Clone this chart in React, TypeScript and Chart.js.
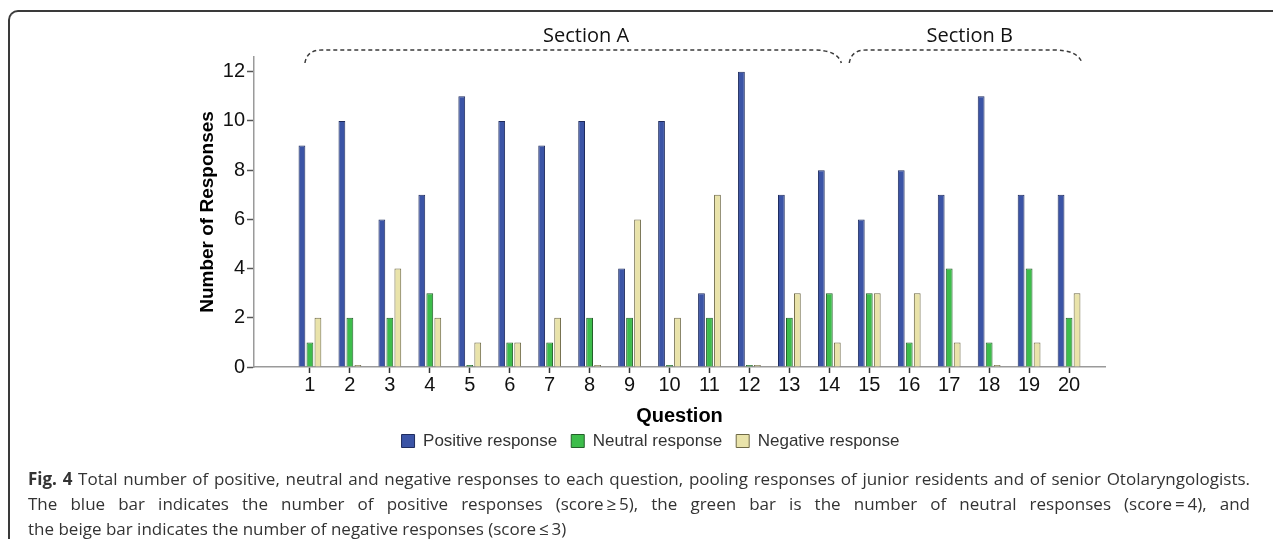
import React, { useEffect, useRef } from "react";
import { Chart, registerables } from "chart.js";

Chart.register(...registerables);

// ---- data ----
const questions = [1, 2, 3, 4, 5, 6, 7, 8, 9, 10, 11, 12, 13, 14, 15, 16, 17, 18, 19, 20];
const positive = [9, 10, 6, 7, 11, 10, 9, 10, 4, 10, 3, 12, 7, 8, 6, 8, 7, 11, 7, 7];
const neutral = [1, 2, 2, 3, 0, 1, 1, 2, 2, 0, 2, 0, 2, 3, 3, 1, 4, 1, 4, 2];
const negative = [2, 0, 4, 2, 1, 1, 2, 0, 6, 2, 7, 0, 3, 1, 3, 3, 1, 0, 1, 3];
const yTicks = [0, 2, 4, 6, 8, 10, 12];
const seriesNames = ["Positive response", "Neutral response", "Negative response"];
const sectionLabels = ["Section A", "Section B"];
const sectionFirst = [1, 15];
const sectionLast = [14, 20];

// ---- style (not data) ----
const seriesColors = ["#3b54a6", "#3dbd4b", "#e9e3aa"];
const seriesBorders = ["#1f2c5e", "#245f2a", "#6e6946"];
const braceStyle = [
  { startOffset: -5, endOffset: 12, labelShift: 13 },
  { startOffset: -20, endOffset: 13, labelShift: 4 },
];

const bracePlugin = {
  id: "sectionBraces",
  afterDraw(chart: any) {
    const { ctx, chartArea, scales } = chart;
    const x = scales.x;
    const yb = chartArea.top + 6;
    const yt = chartArea.top - 7;
    ctx.save();
    sectionLabels.forEach((label, i) => {
      const st = braceStyle[i];
      const x0 = x.getPixelForValue(sectionFirst[i]) + st.startOffset;
      const x1 = x.getPixelForValue(sectionLast[i]) + st.endOffset;
      ctx.strokeStyle = "#3a3a3a";
      ctx.lineWidth = 1.5;
      ctx.setLineDash([4, 3]);
      ctx.beginPath();
      ctx.moveTo(x0, yb);
      ctx.quadraticCurveTo(x0 + 2, yt, x0 + 17, yt);
      ctx.lineTo(x1 - 28, yt);
      ctx.quadraticCurveTo(x1 - 4, yt, x1, yb);
      ctx.stroke();
      ctx.setLineDash([]);
      ctx.fillStyle = "#111";
      ctx.font = "20px 'Open Sans', sans-serif";
      ctx.textAlign = "center";
      ctx.textBaseline = "middle";
      ctx.fillText(label, (x0 + x1) / 2 + st.labelShift, chartArea.top - 21);
    });
    ctx.restore();
  },
};

export default function App() {
  const ref = useRef<HTMLCanvasElement>(null);

  useEffect(() => {
    if (!ref.current) return;
    Chart.defaults.font.family = "'Liberation Sans', Arial, sans-serif";
    const values = [positive, neutral, negative];
    const chart = new Chart(ref.current, {
      type: "bar",
      data: {
        datasets: values.map((arr, i) => ({
          label: seriesNames[i],
          data: questions.map((q, j) => ({ x: q, y: arr[j] })),
          backgroundColor: seriesColors[i],
          borderColor: seriesBorders[i],
          borderWidth: 1,
          minBarLength: 2,
          barPercentage: 0.85,
          categoryPercentage: 0.6,
        })),
      },
      options: {
        animation: false,
        responsive: false,
        layout: { padding: { left: 196, right: 176, top: 57, bottom: 10.5 } },
        plugins: {
          tooltip: { enabled: false },
          legend: {
            display: true,
            position: "bottom",
            labels: {
              boxWidth: 13,
              boxHeight: 13,
              padding: 14,
              color: "#333",
              font: { size: 17 },
            },
          },
        },
        scales: {
          x: {
            type: "linear",
            min: -0.4,
            max: 20.9,
            offset: false,
            afterBuildTicks: (s: any) => {
              s.ticks = questions.map((v) => ({ value: v }));
            },
            afterFit: (s: any) => {
              s.height = 51.5;
            },
            ticks: {
              autoSkip: false,
              maxRotation: 0,
              padding: 0,
              color: "#111",
              font: { size: 20 },
              callback: (v: any) => String(v),
            },
            grid: {
              offset: false,
              drawOnChartArea: false,
              drawTicks: true,
              tickLength: 6,
              tickColor: "#333",
              tickWidth: 1.5,
            },
            border: { color: "#9a9a9a", width: 1.5 },
            title: {
              display: true,
              text: "Question",
              color: "#000",
              font: { size: 20, weight: "bold" },
              padding: { top: 0, bottom: -9.5 },
            },
          },
          y: {
            min: 0,
            max: 12.6,
            afterBuildTicks: (s: any) => {
              s.ticks = yTicks.map((v) => ({ value: v }));
            },
            afterFit: (s: any) => {
              s.width = 58;
            },
            ticks: {
              padding: 2,
              color: "#111",
              font: { size: 20 },
            },
            grid: {
              drawOnChartArea: false,
              drawTicks: true,
              tickLength: 7,
              tickColor: "#555",
              tickWidth: 1.5,
            },
            border: { color: "#9a9a9a", width: 1.5 },
            title: {
              display: true,
              text: "Number of Responses",
              color: "#000",
              font: { size: 19, weight: "bold" },
              padding: { top: 0, bottom: 0 },
            },
          },
        },
      },
      plugins: [bracePlugin],
    } as any);
    return () => chart.destroy();
  }, []);

  const lineStyle: React.CSSProperties = {
    whiteSpace: "nowrap",
    textAlign: "justify",
    textAlignLast: "justify",
    height: 25,
  };

  return (
    <div style={{ position: "relative", width: 1265, height: 531 }}>
      <div
        style={{
          position: "absolute",
          left: 0,
          top: 2,
          right: -8,
          bottom: -8,
          borderLeft: "2px solid #3a3a3a",
          borderTop: "2px solid #3a3a3a",
          borderTopLeftRadius: 10,
        }}
      />
      <div style={{ position: "absolute", left: -8, top: -8, width: 1281, height: 470 }}>
        <canvas ref={ref} width={1281} height={470} style={{ display: "block" }} />
      </div>
      <div
        style={{
          position: "absolute",
          left: 20,
          top: 457.5,
          width: 1222,
          fontFamily: "'Open Sans', sans-serif",
          fontSize: 17,
          lineHeight: "25px",
          color: "#333",
        }}
      >
        <div style={lineStyle}>
          <b>Fig. 4</b> Total number of positive, neutral and negative responses to each question, pooling responses of junior residents and of senior Otolaryngologists.
        </div>
        <div style={lineStyle}>
          The blue bar indicates the number of positive responses (score{"\u2009"}≥{"\u2009"}5), the green bar is the number of neutral responses (score{"\u2009"}={"\u2009"}4), and
        </div>
        <div style={{ whiteSpace: "nowrap", height: 25 }}>
          the beige bar indicates the number of negative responses (score{"\u2009"}≤{"\u2009"}3)
        </div>
      </div>
    </div>
  );
}
